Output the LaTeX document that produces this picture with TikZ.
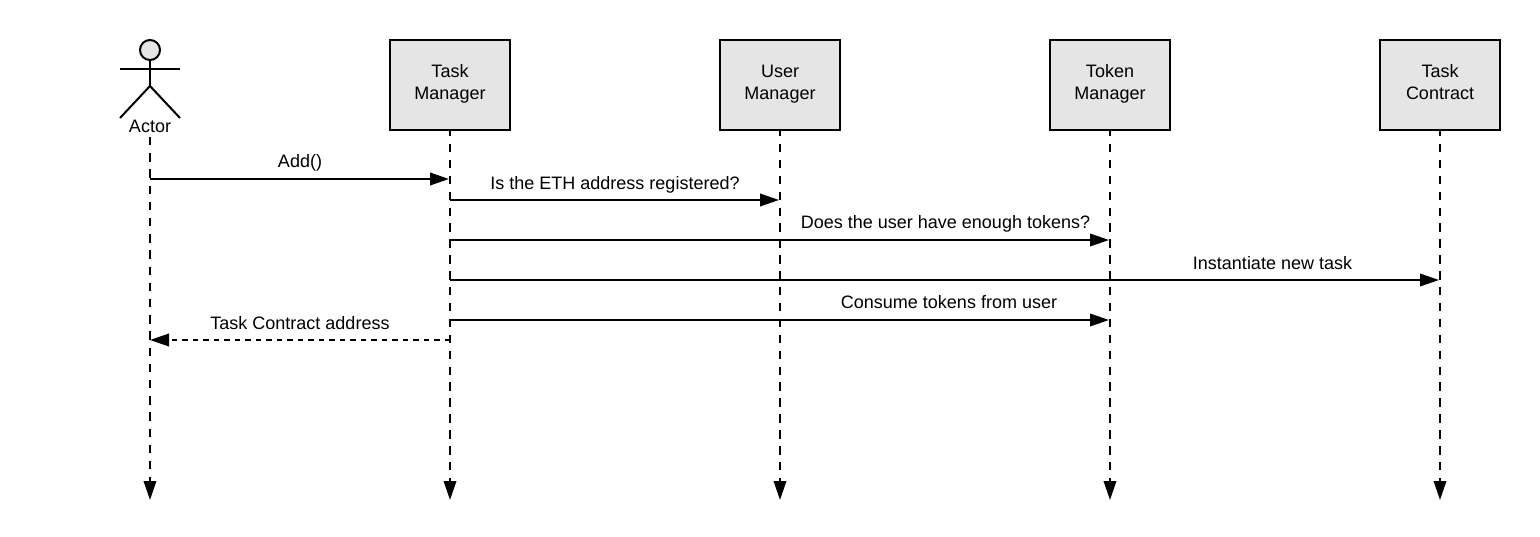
\documentclass[tikz,border=0pt]{standalone}
\usepackage{fontspec}
\setmainfont{Liberation Sans}
\usetikzlibrary{arrows.meta}

\tikzset{
    lifebox/.style={draw,line width=2pt,fill=black!10,minimum width=120pt,minimum height=90pt,inner sep=0pt,align=center,execute at end node={\rule[-6pt]{0pt}{6pt}}},
    lifeline/.style={line width=2pt,dash pattern=on 8.4pt off 7.5pt,dash phase=2.9pt,-{Triangle[length=19pt,width=12.5pt]}},
    call/.style={line width=2pt,shorten >=1pt,-{Triangle[length=19pt,width=12.5pt]}},
    reply/.style={line width=2pt,dash pattern=on 5.5pt off 5pt,-{Triangle[length=19pt,width=12.5pt]}},
    msg/.style={inner sep=0pt}
}

\begin{document}
\begin{tikzpicture}[x=1pt,y=-1pt,font=\fontsize{18}{22}\selectfont]
        \useasboundingbox (0,0) rectangle (1540,537);

        % Actor
        \node[circle,draw,line width=2pt,fill=black!10,minimum size=20pt,inner sep=0pt] (head) at (150,50) {};
        \coordinate (hip) at (150,86);
        \coordinate (armL) at (120,69);
        \coordinate (armR) at (180,69);
        \coordinate (legL) at (120,118);
        \coordinate (legR) at (180,118);
        \draw[line width=2pt] (head) -- (hip);
        \draw[line width=2pt] (armL) -- (armR);
        \draw[line width=2pt] (legL) -- (hip) -- (legR);
        \node[msg] (actor) at (150,126.5) {Actor};

        % Lifeline heads
        \node[lifebox] (taskM) at (450,85) {Task\\Manager};
        \node[lifebox] (userM) at (780,85) {User\\Manager};
        \node[lifebox] (tokenM) at (1110,85) {Token\\Manager};
        \node[lifebox] (taskC) at (1440,85) {Task\\Contract};

        % Lifelines
        \coordinate (actorTop) at (150,137);
        \coordinate (actorEnd) at (150,500);
        \draw[lifeline,dash pattern=on 8.4pt off 7.8pt,dash phase=0pt] (actorTop) -- (actorEnd);
        \foreach \who in {taskM,userM,tokenM,taskC} {
            \coordinate (\who End) at (\who.south |- 0,500);
            \draw[lifeline] (\who.south) -- (\who End);
        }

        % Calls
        \foreach \name/\a/\b/\y in {add/actor/taskM/179,eth/taskM/userM/200,tok/taskM/tokenM/240,inst/taskM/taskC/280,cons/taskM/tokenM/320} {
            \coordinate (\name S) at (\a End |- 0,\y);
            \coordinate (\name E) at (\b End |- 0,\y);
            \draw[call] (\name S) -- (\name E);
        }

        % Reply
        \coordinate (retS) at (taskMEnd |- 0,340);
        \coordinate (retE) at (actorEnd |- 0,340);
        \draw[reply] (retS) -- (retE);

        % Labels
        \node[msg] (addL) at (300,163) {Add()};
        \node[msg] (ethL) at (615,185) {Is the ETH address registered?};
        \node[msg] (tokL) at (945.5,224) {Does the user have enough tokens?};
        \node[msg] (instL) at (1272.5,263) {Instantiate new task};
        \node[msg] (consL) at (949,302.5) {Consume tokens from user};
        \node[msg] (retL) at (300,323) {Task Contract address};
    \end{tikzpicture}
\end{document}
